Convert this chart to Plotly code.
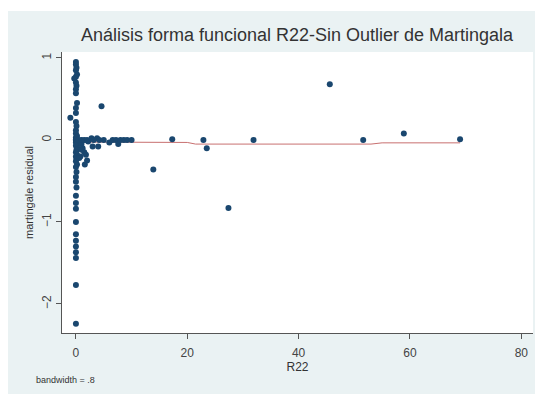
import plotly.graph_objects as go

# --- data ---
r22 = [0, 0, 0.1, 0, 0.2, 0, -0.3, 0, 0.1, 0, 0, 0.2, 0, 0, -1.0, 0, 0.1, 0, 0, 0.2,
       0, 0, 0.1, 0, 0, 0.2, 0, 0.3, 0.1, 0, 0.2, 0, 0.1, 0, 0.2, 0, 0.1, 0, 0, 0.1,
       0, 0, 0, 0, 0, 0, 0, 0, 0, 0, 0,
       1.0, 1.5, 2.0, 1.2, 0.8, 1.6, 2.2, 0.6, 1.0, 1.8,
       0.5, 1.0, 1.5, 2.0, 2.8, 3.0, 3.2, 3.8, 4.0, 4.2, 5.0, 6.0, 6.6, 7.2, 7.6, 8.0, 8.6, 9.2, 10.0,
       4.6, 13.9, 17.3, 22.9, 23.5, 27.4, 31.9, 45.6, 51.6, 58.9, 69.0]
resid = [0.95, 0.92, 0.88, 0.85, 0.8, 0.77, 0.75, 0.7, 0.66, 0.62, 0.57, 0.45, 0.39, 0.33, 0.27, 0.22, 0.17, 0.12, 0.08, 0.05,
         0.03, 0.01, 0.0, -0.01, -0.03, -0.05, -0.07, -0.1, -0.12, -0.15, -0.18, -0.2, -0.23, -0.26, -0.3, -0.33, -0.39, -0.45, -0.51, -0.58,
         -0.68, -0.77, -0.84, -1.0, -1.15, -1.23, -1.3, -1.37, -1.44, -1.77, -2.24,
         -0.05, -0.15, -0.25, -0.1, -0.2, -0.3, -0.02, -0.22, -0.12, -0.18,
         0.0, 0.0, 0.0, 0.0, 0.02, -0.08, 0.0, 0.02, -0.08, 0.0, 0.0, -0.03, 0.0, 0.0, -0.05, 0.0, 0.0, 0.0, 0.0,
         0.41, -0.36, 0.01, 0.0, -0.10, -0.83, 0.0, 0.68, 0.0, 0.08, 0.01]

lowess_x = [0, 10, 20, 21.5, 30, 40, 50, 53, 55, 60, 69]
lowess_y = [-0.025, -0.025, -0.03, -0.05, -0.05, -0.05, -0.05, -0.05, -0.035, -0.035, -0.035]

x_ticks = [0, 20, 40, 60, 80]
y_ticks = [-2, -1, 0, 1]

title_text = "Análisis forma funcional R22-Sin Outlier de Martingala"
bw_text = "bandwidth = .8"

W, H = 535, 394
L, R, T, B = 62, 2, 52, 61
pw, ph = W - L - R, H - T - B

bg = "#eaf2f3"
fig = go.Figure()
fig.add_trace(go.Scatter(x=lowess_x, y=lowess_y, mode="lines",
                         line=dict(color="#c87070", width=1), hoverinfo="skip"))
fig.add_trace(go.Scatter(x=r22, y=resid, mode="markers",
                         marker=dict(color="#1a476f", size=6, line=dict(width=0))))

def px_x(p):
    return (p - L) / pw

def px_y(p):
    return (H - B - p) / ph

shapes = [
    dict(type="rect", xref="paper", yref="paper", x0=px_x(0), x1=px_x(W), y0=px_y(11), y1=px_y(0),
         fillcolor="white", line=dict(width=0), layer="below"),
    dict(type="rect", xref="paper", yref="paper", x0=px_x(0), x1=px_x(8), y0=px_y(H), y1=px_y(0),
         fillcolor="white", line=dict(width=0), layer="below"),
]

fig.update_layout(
    width=W, height=H,
    margin=dict(l=L, r=R, t=T, b=B),
    paper_bgcolor=bg, plot_bgcolor="white",
    showlegend=False,
    font=dict(family="Liberation Sans, Arial", color="#333333", size=12),
    title=dict(text=title_text, xref="paper", x=px_x(297), xanchor="center", y=1 - 35 / H, yanchor="middle",
               font=dict(size=18, color="#333333")),
    shapes=shapes,
    xaxis=dict(range=[-2.5, 82.1], tickvals=x_ticks, ticks="outside", ticklen=5, tickcolor="#555",
               ticklabelstandoff=4,
               showgrid=False, zeroline=False, showline=True, linecolor="#555", linewidth=1,
               title=dict(text="R22", font=dict(size=12), standoff=2), tickfont=dict(size=12, color="#444")),
    yaxis=dict(range=[-2.354, 1.073], tickvals=y_ticks, ticks="outside", ticklen=5, tickcolor="#555",
               tickangle=-90, showgrid=False, zeroline=False, showline=True, linecolor="#555", linewidth=1,
               title=dict(text="martingale residual", font=dict(size=11), standoff=4),
               tickfont=dict(size=12, color="#444")),
    annotations=[dict(text=bw_text, xref="paper", yref="paper", x=px_x(34), y=px_y(380),
                      xanchor="left", yanchor="middle", showarrow=False, font=dict(size=9, color="#333"))],
)

fig.write_html("out.html")
